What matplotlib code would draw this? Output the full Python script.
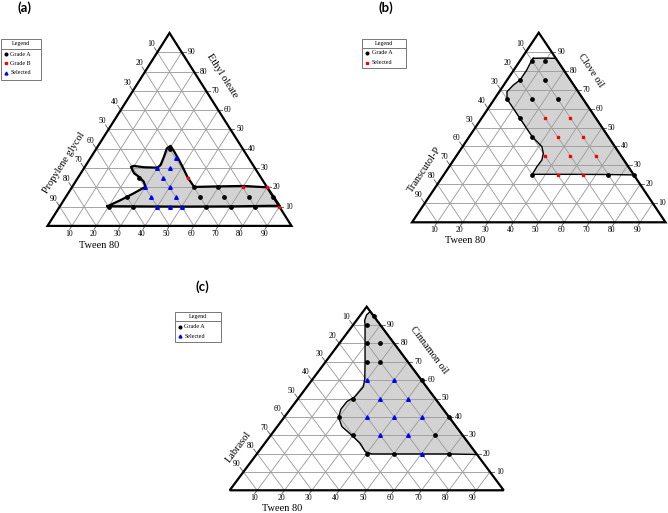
import numpy as np
import matplotlib
matplotlib.use('Agg')
import matplotlib.pyplot as plt
from matplotlib.patches import Polygon, Rectangle

# ternary values as (tween 80 %, oil %), third component = 100 - tween - oil
# panel (a): Tween 80 / Ethyl oleate / Propylene glycol
a_gradeA = [(20, 10), (30, 10), (60, 10), (70, 10), (80, 10), (25, 15), (55, 15), (65, 15),
            (75, 15), (85, 15), (50, 20), (60, 20), (25, 25), (30, 40)]
a_gradeB = [(90, 10), (70, 20), (80, 20), (45, 25)]
a_selected = [(40, 10), (45, 10), (50, 10), (35, 15), (45, 15), (30, 20), (40, 20), (35, 25),
              (30, 30), (35, 30), (35, 35)]
a_region = [(19.5, 10.2), (50, 10), (70, 10.1), (85, 10.4), (90, 10.4), (80, 20), (70, 20.7),
            (60, 20.5), (50, 20.2), (47.2, 22.9), (45, 25), (41.5, 29), (36.8, 34.2), (32.7, 38.5),
            (29.7, 41.5), (28.8, 40.2), (29.8, 35.9), (30.6, 31.6), (30, 30.2), (24.3, 30.4),
            (19.9, 31.1), (18.9, 30.6), (21.8, 27.3), (25, 25.3), (28, 22.9), (30, 20.3),
            (26.9, 16.9), (23.3, 13.4)]

# panel (b): Tween 80 / Clove oil / Transcutol-P
b_gradeA = [(5, 85), (10, 85), (5, 75), (15, 75), (5, 65), (15, 65), (25, 65), (15, 55),
            (25, 45), (35, 25), (65, 25), (75, 25)]
b_selected = [(25, 55), (35, 55), (35, 45), (45, 45), (35, 35), (45, 35), (55, 35), (45, 25),
              (55, 25)]
b_region = [(4.6, 86.5), (8.5, 86.6), (13.5, 86.5), (75, 25), (65, 25.2), (50, 25.3),
            (34.8, 25.3), (34.6, 29.3), (34.8, 32.9), (33.6, 36.4), (31.3, 39.9), (25, 45),
            (15, 55), (5, 65), (3, 68.9), (3.8, 72.4), (5.1, 75.1), (5.1, 80.3), (4.5, 85.4)]

# panel (c): Tween 80 / Cinnamon oil / Labrasol
c_gradeA = [(5, 95), (5, 90), (10, 80), (15, 80), (15, 70), (20, 70), (40, 60), (20, 50),
            (20, 40), (60, 40), (30, 30), (60, 30), (40, 20), (50, 20), (70, 20)]
c_selected = [(20, 60), (30, 60), (30, 50), (40, 50), (30, 40), (40, 40), (50, 40), (40, 30),
              (50, 30), (60, 20)]
c_region = [(2.6, 97.4), (2.2, 95.5), (3, 92.5), (4.4, 90), (9.4, 80), (14.4, 70), (18.8, 61),
            (20.6, 56.4), (20.2, 51), (18.6, 48.3), (18.5, 44.1), (19.9, 39.7), (23.6, 34.7),
            (29.4, 30.1), (34.8, 25.6), (38.9, 21.1), (41.9, 19.8), (58.3, 19.8), (70.5, 19.8),
            (80.5, 19.5)]

ticks = [10, 20, 30, 40, 50, 60, 70, 80, 90]


def xy(pts):
    p = np.array(pts, dtype=float)
    return p[:, 0] + p[:, 1] / 2, p[:, 1]


fig = plt.figure(figsize=(6.68, 5.13), dpi=100)
ov = fig.add_axes([0, 0, 1, 1])
ov.set_xlim(0, 668)
ov.set_ylim(513, 0)
ov.axis('off')

serif = 'Liberation Serif'


def panel(box, region, series, names, ang, blw):
    x0, w, y0, h = box
    ax = fig.add_axes([x0 / 668, (513 - y0) / 513, w / 668, h / 513])
    ax.set_xlim(0, 100)
    ax.set_ylim(0, 100)
    ax.axis('off')
    rx, ry = xy(region)
    ax.add_patch(Polygon(np.column_stack([rx, ry]), closed=True, fc='#d3d3d3', ec='none', zorder=1))
    for k in ticks:
        ax.plot([k / 2, 100 - k / 2], [k, k], color='#9e9e9e', lw=0.65, zorder=2)
        ax.plot([k, k + (100 - k) / 2], [0, 100 - k], color='#9e9e9e', lw=0.65, zorder=2)
        ax.plot([100 - k, (100 - k) / 2], [0, 100 - k], color='#9e9e9e', lw=0.65, zorder=2)
        # ticks and labels
        ax.plot([100 - k / 2, 100 - k / 2 + 1.6], [k, k], color='#555555', lw=0.6, clip_on=False)
        ax.text(100 - k / 2 + 2.3, k, str(k), fontsize=5.5, family=serif, ha='left', va='center')
        ax.plot([k, k - 0.9], [0, -1.8], color='#555555', lw=0.6, clip_on=False)
        ax.text(k - 1.2, -4.3, str(k), fontsize=5.5, family=serif, ha='center', va='center')
        ax.plot([(100 - k) / 2, (100 - k) / 2 - 1.2], [100 - k, 102.4 - k], color='#555555',
                lw=0.6, clip_on=False)
        ax.text((100 - k) / 2 - 2.4, 104.2 - k, str(k), fontsize=5.5, family=serif,
                ha='center', va='center')
    ax.plot(np.append(rx, rx[0]), np.append(ry, ry[0]), color='black', lw=blw, zorder=3)
    ax.add_patch(Polygon([(0, 0), (100, 0), (50, 100)], closed=True, fill=False, ec='black',
                         lw=1.6, zorder=4, clip_on=False))
    for pts, mk, col, ms in series:
        px, py = xy(pts)
        ax.plot(px, py, ls='none', marker=mk, color=col, ms=ms, mec=col, zorder=5, clip_on=False)
    left, right, bottom = names
    ax.text(left[1][0], left[1][1], left[0], rotation=ang, fontsize=7.5, family=serif,
            ha='center', va='center')
    ax.text(right[1][0], right[1][1], right[0], rotation=-ang, fontsize=7.5, family=serif,
            ha='center', va='center')
    ax.text(bottom[1][0], bottom[1][1], bottom[0], fontsize=7.5, family=serif,
            ha='center', va='center')
    return ax


black = ('o', 'black', 2.4)
red = ('s', '#ff0000', 2.0)
blue = ('^', '#0000ff', 2.6)

panel((47.5, 244, 225.9, 192.9), a_region,
      [(a_gradeA,) + black, (a_gradeB,) + red, (a_selected,) + blue],
      [('Propylene glycol', (6.8, 32.8)), ('Ethyl oleate', (71.6, 77.9)),
       ('Tween 80', (21.0, -10.0))],
      57.7, 1.6)
panel((412, 253.5, 222.3, 189.6), b_region,
      [(b_gradeA,) + black, (b_selected,) + red],
      [('Transcutol-P', (5.1, 27.6)), ('Clove oil', (70.5, 80.3)), ('Tween 80', (20.9, -9.8))],
      56.2, 1.0)
panel((229.7, 274, 490.3, 183.6), c_region,
      [(c_gradeA,) + black, (c_selected,) + blue],
      [('Labrasol', (3.1, 23.7)), ('Cinnamon oil', (72.7, 76.4)), ('Tween 80', (19.3, -10.0))],
      53.3, 1.0)

# panel letters
for lab, (px, py) in [('(a)', (24, 8)), ('(b)', (386, 8)), ('(c)', (202.5, 287))]:
    ov.text(px, py, lab, fontsize=9.5, fontweight='bold', family='Lato', ha='center', va='center')


def legend(x1, y1, x2, y2, yh, yl, rows):
    ov.add_patch(Rectangle((x1, y1), x2 - x1, y2 - y1, fill=False, ec='#777777', lw=0.7))
    ov.plot([x1, x2], [yl, yl], color='#777777', lw=0.7)
    ov.text((x1 + x2) / 2, yh, 'Legend', fontsize=4.3, family=serif, ha='center', va='center')
    for (lab, mk, col, ms), yy in rows:
        ov.plot(x1 + 5, yy, marker=mk, color=col, ms=ms * 0.8, mec=col)
        ov.text(x1 + 9.5, yy, lab, fontsize=4.3, family=serif, ha='left', va='center')


legend(1, 39, 41.3, 79.5, 44, 48.5,
       [(('Grade A',) + black, 54), (('Grade B',) + red, 63.3), (('Selected',) + blue, 72.8)])
legend(362, 39, 405.5, 68, 43.5, 47.8,
       [(('Grade A',) + black, 53), (('Selected',) + red, 62.5)])
legend(175, 312, 220.5, 341.5, 316.5, 320.8,
       [(('Grade A',) + black, 326.5), (('Selected',) + blue, 336)])

fig.savefig('out.png', dpi=100)
